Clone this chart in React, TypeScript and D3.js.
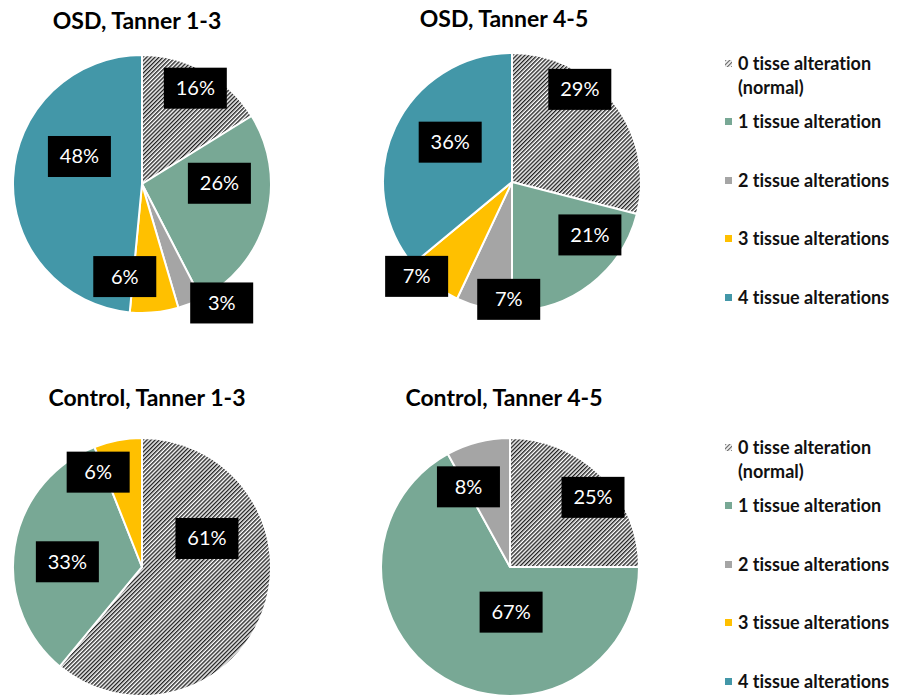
import React from "react";
import * as d3 from "d3";

// categories and the four groups (percent shown on each slice)
const CATEGORIES = [
  "0 tisse alteration",
  "1 tissue alteration",
  "2 tissue alterations",
  "3 tissue alterations",
  "4 tissue alterations",
];
const OSD_TANNER_13 = [16, 26, 3, 6, 48];
const OSD_TANNER_45 = [29, 21, 7, 7, 36];
const CONTROL_TANNER_13 = [61, 33, 0, 6, 0];
const CONTROL_TANNER_45 = [25, 67, 8, 0, 0];
const TITLES = ["OSD, Tanner 1-3", "OSD, Tanner 4-5", "Control, Tanner 1-3", "Control, Tanner 4-5"];

const COLORS = ["url(#hatch)", "#78A895", "#A5A5A5", "#FFC000", "#4397A8"];

// layout: pie centres, and where Excel put each label (angle shift in deg, radius fraction)
const W = 909;
const H = 698;
const R = 129;
const PANELS = [
  { cx: 142, cy: 184, ty: 29 },
  { cx: 512, cy: 182, ty: 27 },
  { cx: 142, cy: 567, ty: 406 },
  { cx: 510, cy: 567, ty: 406 },
];
const TITLE_X = [137, 504, 147, 504];
const LABEL_NUDGE = [
  [[0, 0.85], [-16, 0.6], [-12, 1.11], [16, 0.73], [21, 0.53]],
  [[-16, 0.89], [-18, 0.73], [-11, 0.91], [7.5, 1.04], [7.6, 0.57]],
  [[-43.5, 0.55], [-5, 0.58], [0, 0], [-14, 0.81], [0, 0]],
  [[5, 0.84], [-32, 0.35], [-13, 0.7], [0, 0], [0, 0]],
];
const LEGEND_TOPS = [0, 384];

const FONT = "Lato, 'Open Sans', sans-serif";
const NOLIG = { fontVariantLigatures: "none" } as React.CSSProperties;

function Pie({ values, idx }: { values: number[]; idx: number }) {
  const p = PANELS[idx];
  const pie = d3.pie<number>().sort(null).value((d) => d);
  const arcs = pie(values);
  const arc = d3.arc<d3.PieArcDatum<number>>().innerRadius(0).outerRadius(R);
  return (
    <g>
      <text
        x={TITLE_X[idx]}
        y={p.ty}
        textAnchor="middle"
        fontFamily={FONT}
        fontWeight="bold"
        fontSize={23}
        fill="#000"
        style={NOLIG}
      >
        {TITLES[idx]}
      </text>
      <g transform={`translate(${p.cx},${p.cy})`}>
        {arcs.map((a, i) =>
          a.value > 0 ? (
            <path key={i} d={arc(a) || ""} fill={COLORS[i]} stroke="#fff" strokeWidth={2} />
          ) : null
        )}
        {arcs.map((a, i) => {
          if (a.value <= 0) return null;
          const [dDeg, rf] = LABEL_NUDGE[idx][i];
          const ang = (a.startAngle + a.endAngle) / 2 + (dDeg * Math.PI) / 180;
          const x = Math.sin(ang) * rf * R;
          const y = -Math.cos(ang) * rf * R;
          return (
            <g key={"l" + i} transform={`translate(${x},${y})`}>
              <rect x={-31.5} y={-20.5} width={63} height={41} fill="#000" />
              <text
                y={7}
                textAnchor="middle"
                fontFamily={FONT}
                fontSize={20}
                fill="#fff"
              >
                {`${values[i]}%`}
              </text>
            </g>
          );
        })}
      </g>
    </g>
  );
}

function Legend({ top }: { top: number }) {
  const rows = [122, 181, 239, 298];
  return (
    <g
      transform={`translate(0,${top})`}
      fontFamily={FONT}
      fontWeight="bold"
      fontSize={18}
      fill="#111"
      style={NOLIG}
    >
      <rect x={725} y={60} width={7} height={7} fill="url(#hatchSmall)" />
      <text x={738} y={70}>
        {CATEGORIES[0]}
      </text>
      <text x={738} y={94}>
        (normal)
      </text>
      {rows.map((y, i) => (
        <g key={i}>
          <rect x={725} y={y - 4} width={7} height={7} fill={COLORS[i + 1]} />
          <text x={738} y={y + 6}>
            {CATEGORIES[i + 1]}
          </text>
        </g>
      ))}
    </g>
  );
}

export default function App() {
  const groups = [OSD_TANNER_13, OSD_TANNER_45, CONTROL_TANNER_13, CONTROL_TANNER_45];
  return (
    <svg
      width={W}
      height={H}
      style={{ position: "absolute", left: 0, top: 0, background: "#fff" }}
    >
      <defs>
        <pattern id="hatch" patternUnits="userSpaceOnUse" width={2.9} height={2.9} patternTransform="rotate(45)">
          <rect width={2.9} height={2.9} fill="#fff" />
          <line x1={0.7} y1={0} x2={0.7} y2={2.9} stroke="#222" strokeWidth={1.4} />
        </pattern>
        <pattern id="hatchSmall" patternUnits="userSpaceOnUse" width={3} height={3} patternTransform="rotate(45)">
          <rect width={3} height={3} fill="#fff" />
          <line x1={0.7} y1={0} x2={0.7} y2={3} stroke="#444" strokeWidth={1} />
        </pattern>
      </defs>
      <rect width={W} height={H} fill="#fff" />
      {groups.map((g, i) => (
        <Pie key={i} values={g} idx={i} />
      ))}
      {LEGEND_TOPS.map((t, i) => (
        <Legend key={i} top={t} />
      ))}
    </svg>
  );
}
